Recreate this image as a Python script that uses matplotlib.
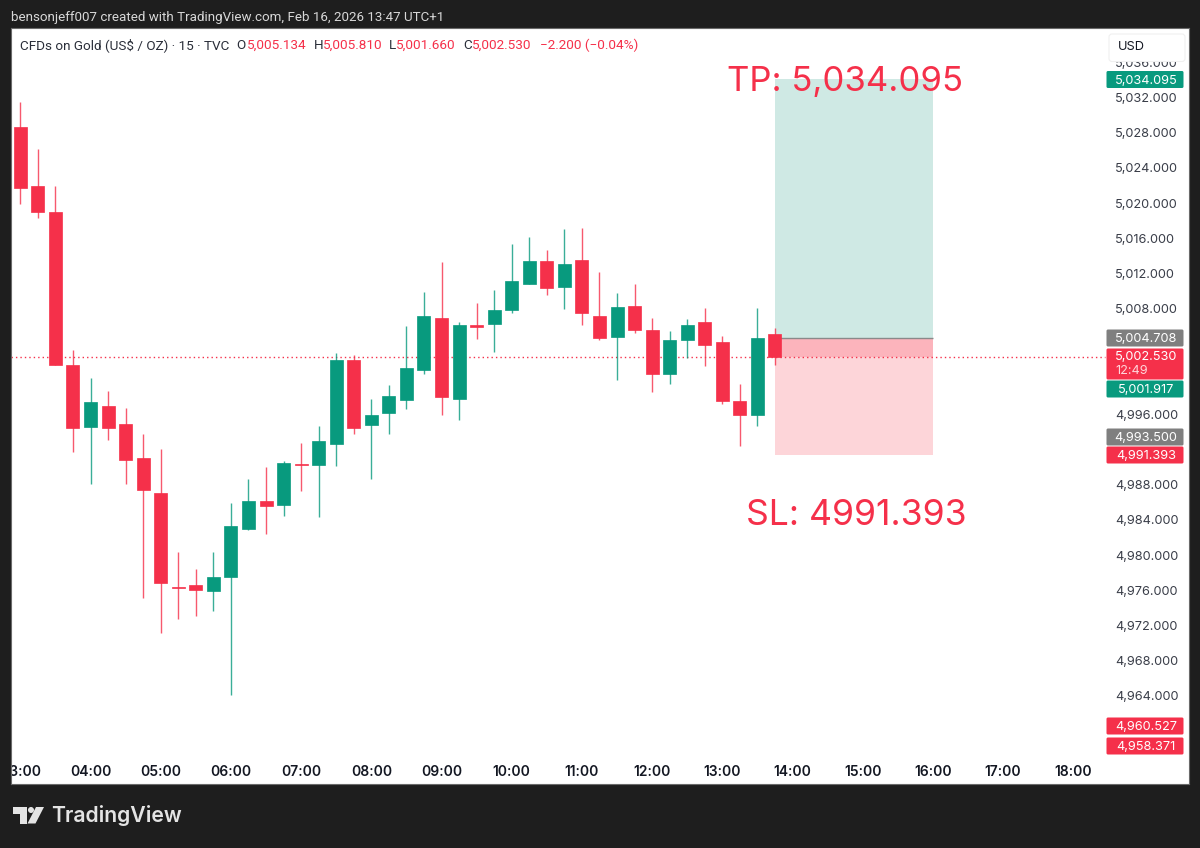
import matplotlib
matplotlib.use("Agg")
import matplotlib.pyplot as plt
from matplotlib.patches import Circle, FancyBboxPatch, Polygon, Rectangle
from matplotlib.transforms import Affine2D

RED = "#f5304a"
GREEN = "#089a7e"
DARK = "#1e1e1e"
INK = "#2a2e39"

opens = [5028.7, 5021.9, 5019.0, 5001.6, 4994.6, 4997.0, 4994.9, 4991.0, 4987.1, 4976.4, 4976.6,
         4975.9, 4977.5, 4983.0, 4986.2, 4985.7, 4990.3, 4990.2, 4992.6, 5002.2, 4994.8, 4996.2,
         4997.6, 5001.0, 5007.0, 4997.7, 5006.2, 5006.3, 5007.9, 5010.8, 5013.4, 5010.5, 5013.5,
         5007.2, 5004.8, 5008.3, 5005.6, 5000.6, 5004.4, 5006.5, 5004.2, 4997.5, 4995.9, 5005.134]
highs = [5031.5, 5026.1, 5021.9, 5003.3, 5000.1, 4998.6, 4996.7, 4993.8, 4992.1, 4980.3, 4978.4,
         4980.3, 4985.9, 4988.6, 4990.0, 4990.7, 4992.7, 4994.7, 5003.0, 5002.7, 4997.7, 4999.3,
         5006.0, 5009.9, 5013.3, 5006.5, 5008.7, 5010.1, 5015.4, 5016.2, 5014.7, 5017.1, 5017.2,
         5012.2, 5009.8, 5010.8, 5006.9, 5005.5, 5006.8, 5008.1, 5004.9, 4999.4, 5008.1, 5005.81]
lows = [5019.9, 5018.3, 5001.6, 4991.7, 4988.1, 4993.1, 4988.1, 4975.1, 4971.2, 4972.7, 4973.1,
        4973.7, 4964.1, 4982.8, 4982.4, 4984.5, 4987.3, 4984.3, 4990.1, 4993.8, 4988.7, 4993.8,
        4996.6, 5000.6, 4995.9, 4995.3, 5004.6, 5003.1, 5007.5, 5010.8, 5009.6, 5008.0, 5006.2,
        5004.4, 4999.9, 5005.2, 4998.5, 4999.4, 5002.4, 5001.5, 4997.2, 4992.4, 4994.7, 5001.66]
closes = [5021.7, 5019.0, 5001.6, 4994.5, 4997.4, 4994.4, 4990.8, 4987.4, 4976.8, 4976.3, 4976.0,
          4977.5, 4983.3, 4986.2, 4985.6, 4990.5, 4990.2, 4993.0, 5002.2, 4994.4, 4995.9, 4998.1,
          5001.3, 5007.2, 4998.0, 5006.2, 5005.9, 5007.8, 5011.1, 5013.4, 5010.4, 5013.1, 5007.5,
          5004.7, 5008.2, 5005.6, 5000.6, 5004.4, 5006.1, 5003.9, 4997.5, 4995.9, 5004.7, 5002.53]

take_profit = 5034.095
entry = 5004.708
stop_loss = 4991.393
last_price = 5002.53

# 5004, 5000, 4992 and 4960 sit behind the price tags in the reference
price_ticks = [4964, 4968, 4972, 4976, 4980, 4984, 4988, 4996, 5008, 5012, 5016, 5020, 5024, 5028, 5032, 5036]
time_labels = ["03:00", "04:00", "05:00", "06:00", "07:00", "08:00", "09:00", "10:00",
               "11:00", "12:00", "13:00", "14:00", "15:00", "16:00", "17:00", "18:00"]

tag_labels = ["5,034.095", "5,004.708", "5,001.917", "4,993.500", "4,991.393", "4,960.527", "4,958.371"]
tag_colors = [GREEN, "#7f7f7f", GREEN, "#7f7f7f", RED, RED, RED]
tag_y = [79.5, 338, 389, 437, 455, 726, 746]

fig = plt.figure(figsize=(12, 8.48), dpi=100, facecolor=DARK)
ax = fig.add_axes([11 / 1200, 1 - 784 / 848, 1178 / 1200, 756 / 848])
ax.set_xlim(-0.53, 66.59)
ax.set_ylim(4953.99, 5039.90)

# image pixel coordinates, y going down
pix = Affine2D().scale(1 / 1200, -1 / 848).translate(0, 1) + fig.transFigure

for spine in ax.spines.values():
    spine.set_color("#6a6a6a")
    spine.set_linewidth(0.8)

# position tool
ax.add_patch(Rectangle((43, entry), 9, take_profit - entry, fc="#cfe9e4", ec="none", zorder=1))
ax.add_patch(Rectangle((43, stop_loss), 9, entry - stop_loss, fc="#fdd5d9", ec="none", zorder=1))
ax.add_patch(Rectangle((43, last_price), 9, entry - last_price, fc="#fcb4bc", ec="none", zorder=1.1))
ax.hlines(entry, 43, 52, color="#8a8a8a", lw=1, zorder=1.2)

ax.plot([-0.53, 61.8], [last_price, last_price], color=RED, lw=1, ls=(0, (1, 2.2)), zorder=1.5)

xs = list(range(len(opens)))
colors = [GREEN if c >= o else RED for o, c in zip(opens, closes)]
ax.vlines(xs, lows, highs, colors=colors, lw=1.0, alpha=0.8, zorder=2)
ax.bar(xs, [abs(c - o) for o, c in zip(opens, closes)], width=0.74,
       bottom=[min(o, c) for o, c in zip(opens, closes)],
       color=colors, edgecolor=colors, linewidth=0.5, zorder=3)

ax.text(46.97, take_profit - 0.3, "TP: 5,034.095", color=RED, fontsize=25, ha="center", va="center",
        family="Inter", zorder=4)
ax.text(47.62, 4984.55, "SL: 4991.393", color=RED, fontsize=25.6, ha="center", va="center",
        family="Inter", zorder=4)

ax.set_xticks(range(0, 64, 4))
ax.set_xticklabels(time_labels, family="Inter", fontweight="semibold")
ax.tick_params(axis="x", length=0, pad=-14, labelsize=10, labelcolor="#131722")
for label in ax.get_xticklabels():
    label.set_clip_box(ax.bbox)
    label.set_clip_on(True)

ax.yaxis.tick_right()
ax.set_yticks(price_ticks)
ax.set_yticklabels([f"{p:,}.000" for p in price_ticks], family="Inter")
ax.tick_params(axis="y", length=0, pad=-53, labelsize=9.2, labelcolor="#3a3e49")

# price tags on the right scale
for label, color, y in zip(tag_labels, tag_colors, tag_y):
    ax.add_patch(FancyBboxPatch((1106.5, y - 8.5), 77, 17, boxstyle="round,pad=0,rounding_size=1.5",
                                fc=color, ec="none", transform=pix, zorder=5, clip_on=False))
    ax.text(1146, y + 1, label, color="white", fontsize=9.2, ha="center", va="center",
            family="Inter", transform=pix, zorder=6)
ax.add_patch(FancyBboxPatch((1106.5, 348.5), 77, 31, boxstyle="round,pad=0,rounding_size=1.5",
                            fc=RED, ec="none", transform=pix, zorder=5, clip_on=False))
ax.text(1146, 357, "5,002.530", color="white", fontsize=9.2, ha="center", va="center",
        family="Inter", transform=pix, zorder=6)
ax.text(1115, 371, "12:49", color="#ffd5da", fontsize=9.2, ha="left", va="center",
        family="Inter", transform=pix, zorder=6)

ax.add_patch(FancyBboxPatch((1109, 34), 76, 27.5, boxstyle="round,pad=0,rounding_size=3",
                            fc="white", ec="#f0f0f0", lw=0.8, transform=pix, zorder=5, clip_on=False))
ax.text(1118, 46.5, "USD", color="#131722", fontsize=9.2, ha="left", va="center",
        family="Inter", transform=pix, zorder=6)

# legend line
legend_bits = [(19.5, "CFDs on Gold (US$ / OZ) · 15 · TVC", INK), (236.5, "O", INK), (247, "5,005.134", RED),
               (314, "H", INK), (323, "5,005.810", RED), (389, "L", INK), (396, "5,001.660", RED),
               (463, "C", INK), (472, "5,002.530", RED), (540, "−2.200 (−0.04%)", RED)]
for x, bit, color in legend_bits:
    ax.text(x, 45.5, bit, color=color, fontsize=9.7, ha="left", va="center", family="Roboto",
            transform=pix, zorder=6)

fig.text(11, 17, "bensonjeff007 created with TradingView.com, Feb 16, 2026 13:47 UTC+1", color="#d8d8d8",
         fontsize=9.6, ha="left", va="center", family="Roboto", transform=pix)

# footer logo
logo = "#e4e4e4"
fig.add_artist(Polygon([(13, 807), (27, 807), (27, 823.5), (20, 823.5), (20, 813.5), (13, 813.5)],
                       fc=logo, ec="none", transform=pix))
fig.add_artist(Circle((31, 810), 3, fc=logo, ec="none", transform=pix))
fig.add_artist(Polygon([(36, 807), (44, 807), (35.5, 823.5), (27.5, 823.5)], fc=logo, ec="none", transform=pix))
fig.text(51.5, 816, "TradingView", color=logo, fontsize=15.3, fontweight="semibold", ha="left", va="center",
         family="Inter", transform=pix)

fig.savefig("out.png", dpi=100, facecolor=DARK)
plt.close(fig)
